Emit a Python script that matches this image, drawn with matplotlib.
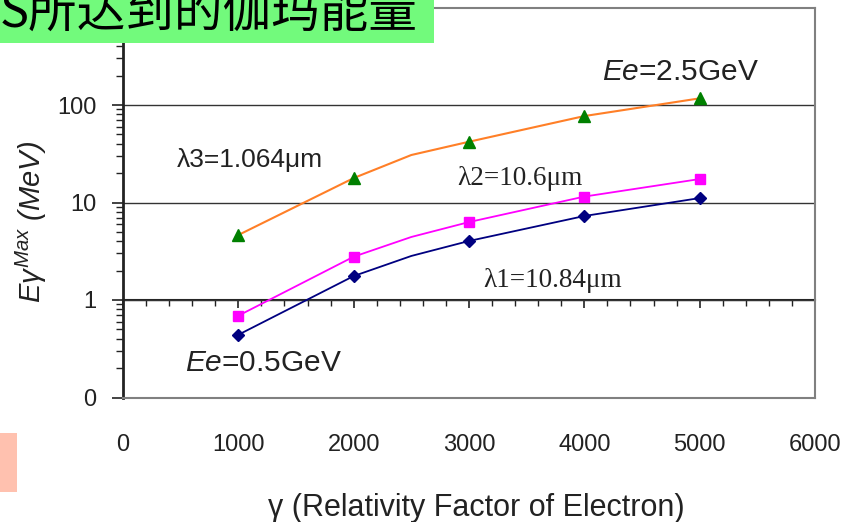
import matplotlib
matplotlib.use("Agg")
import matplotlib.pyplot as plt
from matplotlib.patches import Rectangle
from matplotlib.ticker import LogLocator, FixedLocator, MultipleLocator, NullFormatter

plt.rcParams['font.family'] = ['Liberation Sans', 'Noto Sans CJK SC', 'DejaVu Sans']
plt.rcParams['mathtext.fontset'] = 'custom'
plt.rcParams['mathtext.rm'] = 'Liberation Sans'
plt.rcParams['mathtext.it'] = 'Liberation Sans:italic'

# electron gamma at the marker points
gamma = [1000, 2000, 3000, 4000, 5000]
e_l1 = [0.44, 1.76, 4.03, 7.27, 11.1]     # lambda1 = 10.84 um
e_l2 = [0.69, 2.78, 6.3, 11.5, 17.4]      # lambda2 = 10.6 um
e_l3 = [4.64, 17.8, 42.0, 77.0, 117.0]    # lambda3 = 1.064 um

# smoothed curve points
gamma_line = [1000, 2000, 2500, 3000, 4000, 5000]
line_l1 = [0.44, 1.76, 2.83, 4.03, 7.27, 11.1]
line_l2 = [0.69, 2.78, 4.43, 6.3, 11.5, 17.4]
line_l3 = [4.64, 17.8, 30.7, 42.0, 77.0, 117.0]

xticks = [0, 1000, 2000, 3000, 4000, 5000, 6000]
yticks = [0.1, 1, 10, 100]
ylabels = ["0", "1", "10", "100"]

fig = plt.figure(figsize=(8.42, 5.22), dpi=100)
ax = fig.add_axes([123/842, 1 - 397.5/522, 692/842, 390/522])

ax.set_yscale('log')
ax.set_xlim(0, 6000)
ax.set_ylim(0.1, 1000)

ax.plot(gamma_line, line_l3, color='#FF7F27', lw=1.5, zorder=3)
ax.plot(gamma_line, line_l2, color='#FF00FF', lw=1.3, zorder=3)
ax.plot(gamma_line, line_l1, color='#000080', lw=1.3, zorder=3)
ax.plot(gamma, e_l3, ls='none', marker='^', ms=8, color='#008000', zorder=4)
ax.plot(gamma, e_l2, ls='none', marker='s', ms=7, color='#FF00FF', zorder=4)
ax.plot(gamma, e_l1, ls='none', marker='D', ms=6, color='#000080', zorder=4)

# y axis
ax.yaxis.set_major_locator(FixedLocator(yticks))
ax.set_yticklabels(ylabels)
ax.yaxis.set_minor_locator(LogLocator(base=10, subs=range(2, 10)))
ax.yaxis.set_minor_formatter(NullFormatter())
ax.tick_params(axis='y', which='major', direction='out', length=8, width=1.2,
               pad=11, labelsize=17, colors='#222222')
ax.tick_params(axis='y', which='minor', direction='out', length=5, width=1.0, color='#222222')
ax.yaxis.grid(True, which='major', color='#333333', lw=1.0)

# x labels sit below the frame, ticks are on the y=1 line
ax.set_xticks(xticks)
ax.tick_params(axis='x', which='both', length=0, pad=26, labelsize=17, labelcolor='#222222')

sec = ax.secondary_xaxis(0.25)
sec.set_xticks(xticks)
sec.xaxis.set_minor_locator(MultipleLocator(200))
sec.tick_params(axis='x', which='major', direction='out', length=6, width=1.2,
                labelbottom=False, color='#222222')
sec.tick_params(axis='x', which='minor', direction='out', length=4, width=1.0, color='#222222')
sec.spines['bottom'].set_color('#222222')
sec.spines['bottom'].set_linewidth(1.5)

ax.spines['left'].set_color('#222222')
ax.spines['left'].set_linewidth(2)
for s in ['top', 'right', 'bottom']:
    ax.spines[s].set_color('#808080')
    ax.spines[s].set_linewidth(1.5)

ax.set_xlabel(u"\u03b3 (Relativity Factor of Electron)", fontsize=22, color='#222222')
ax.xaxis.set_label_coords(0.51, -0.283)
ax.xaxis.label.set_va('center')
ax.set_ylabel(r"$E\gamma^{Max}$ (MeV)", fontsize=21, style='italic', color='#222222')
ax.yaxis.set_label_coords(-0.133, 0.45)
ax.yaxis.label.set_va('center')

# annotations
ax.text(4156, 180, r"$\mathit{Ee}$=2.5GeV", fontsize=21.5, color='#222222', va='baseline')
ax.text(538, 0.187, r"$\mathit{Ee}$=0.5GeV", fontsize=21.5, color='#222222', va='baseline')
ax.text(469, 23.1, u"\u03bb3=1.064\u03bcm", fontsize=19, color='#222222', va='baseline')
ax.text(2898, 15.1, u"\u03bb2=10.6\u03bcm", fontsize=19.5, color='#222222', va='baseline',
        family='Liberation Serif')
ax.text(3124, 1.36, u"\u03bb1=10.84\u03bcm", fontsize=19.5, color='#222222', va='baseline',
        family='Liberation Serif')

# slide decorations
fig.patches.append(Rectangle((0, 1 - 42.5/522), 434/842, 42.5/522, transform=fig.transFigure,
                             facecolor='#72FA7C', edgecolor='none', zorder=5))
fig.patches.append(Rectangle((0, 1 - 492/522), 17/842, 59/522, transform=fig.transFigure,
                             facecolor='#FFC1AF', edgecolor='none', zorder=5))
fig.text(0.0, 1 - 27/522, u"S所达到的伽玛能量", fontsize=35, va='baseline', ha='left',
         family=['Noto Sans CJK SC', 'DejaVu Sans'], color='black', zorder=6)

fig.savefig("out.png", dpi=100)
